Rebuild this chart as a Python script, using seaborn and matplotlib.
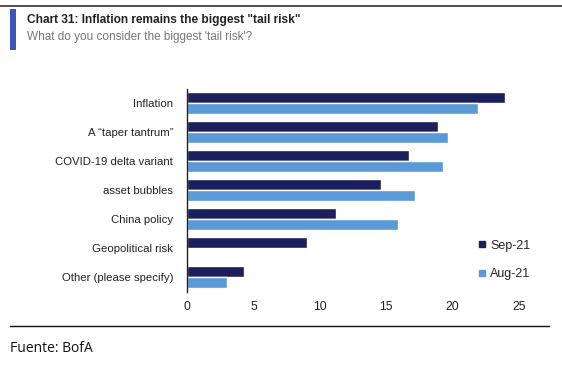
import pandas as pd
import matplotlib.pyplot as plt
import seaborn as sns
from matplotlib.lines import Line2D
from matplotlib.patches import Rectangle

categories = ["Inflation", "A \u201ctaper tantrum\u201d", "COVID-19 delta variant",
              "asset bubbles", "China policy", "Geopolitical risk",
              "Other (please specify)"]
sep21 = [24.0, 18.9, 16.7, 14.6, 11.2, 9.0, 4.3]
aug21 = [21.9, 19.7, 19.3, 17.2, 15.9, 0.0, 3.0]
series = ["Sep-21", "Aug-21"]
x_ticks = [0, 5, 10, 15, 20, 25]

df = pd.DataFrame({"risk": categories * 2,
                   "value": sep21 + aug21,
                   "month": [series[0]] * len(categories) + [series[1]] * len(categories)})

sns.set_style("white")
plt.rcParams["font.family"] = ["Liberation Sans", "DejaVu Sans"]

fig = plt.figure(figsize=(5.62, 3.65), dpi=100)
ax = fig.add_axes([0.333, 0.201, 0.590, 0.556])

palette = {"Sep-21": "#1b1f5c", "Aug-21": "#5b9ad6"}
sns.barplot(data=df, y="risk", x="value", hue="month", orient="h",
            palette=palette, width=0.76, saturation=1, ax=ax, legend=False)

ax.set_xlim(0, 25)
ax.set_ylim(6.5, -0.5)
ax.set_xticks(x_ticks)
ax.set_xticklabels([str(t) for t in x_ticks], fontsize=8.8, color="#222222")
ax.tick_params(axis="y", labelsize=8.2, labelcolor="#222222", length=0, pad=10)
ax.tick_params(axis="x", length=0, pad=7)
ax.set_xlabel("")
ax.set_ylabel("")
for s in ["top", "right", "bottom"]:
    ax.spines[s].set_visible(False)
ax.spines["left"].set_color("#222222")
ax.spines["left"].set_linewidth(1.0)

handles = [Line2D([], [], marker="s", linestyle="", markersize=5,
                  color=palette[s]) for s in series]
ax.legend(handles, series, loc="lower right", bbox_to_anchor=(1.07, 0.0),
          frameon=False, fontsize=9, handletextpad=0.1, labelspacing=1.35,
          handlelength=1.2)

# header
fig.add_artist(Line2D([0, 1], [1 - 6 / 365, 1 - 6 / 365], color="#333333", lw=1.2))
fig.add_artist(Rectangle((10 / 562, 1 - 50 / 365), 6 / 562, 41 / 365,
                         color="#3b55c0", lw=0))
fig.text(27 / 562, 1 - 20 / 365, "Chart 31: Inflation remains the biggest \"tail risk\"",
         fontsize=8.6, fontweight="bold", color="#222222", va="center")
fig.text(27 / 562, 1 - 37 / 365, "What do you consider the biggest 'tail risk'?",
         fontsize=8.5, color="#777777", va="center")

# footer
fig.add_artist(Line2D([10 / 562, 549 / 562], [1 - 326 / 365, 1 - 326 / 365],
                      color="#111111", lw=1.0))
fig.text(10 / 562, 1 - 349 / 365, "Fuente: BofA", fontsize=10, color="#111111",
         va="center", family=["Open Sans", "DejaVu Sans"])

fig.savefig("out.png", dpi=100)
